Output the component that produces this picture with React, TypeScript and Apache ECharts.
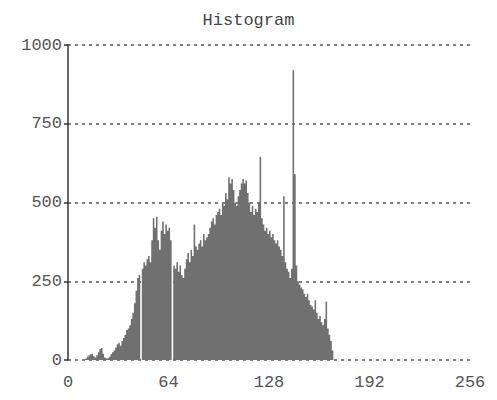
import React, { useEffect, useRef } from "react";
import * as echarts from "echarts";

const titleText = "Histogram";
const xTicks = [0, 64, 128, 192, 256];
const yTicks = [0, 250, 500, 750, 1000];

// counts for bins 0..169; remaining bins up to 255 are empty
const countsLow = [
  0, 0, 0, 0, 0, 0, 0, 0, 0, 0,
  2, 5, 10, 15, 18, 20, 12, 8, 15, 25,
  35, 38, 20, 8, 5, 6, 10, 18, 25, 30,
  40, 50, 55, 45, 60, 70, 80, 95, 100, 110,
  130, 150, 180, 220, 260, 270, 0, 290, 310, 300,
  320, 330, 310, 380, 450, 420, 455, 380, 350, 410,
  440, 400, 430, 410, 420, 380, 0, 300, 290, 310,
  280, 300, 270, 260, 290, 320, 340, 310, 350, 330,
  430, 360, 350, 370, 380, 360, 400, 380, 390, 400,
  420, 440, 450, 430, 460, 470, 480, 460, 500, 490,
  530, 510, 580, 560, 575, 540, 500, 490, 520, 540,
  560, 575, 560, 570, 530, 500, 470, 490, 460, 480,
  470, 500, 645, 450, 430, 410, 420, 400, 410, 390,
  400, 380, 370, 380, 360, 350, 330, 520, 310, 290,
  280, 260, 290, 920, 590, 300, 250, 240, 230, 225,
  210, 200, 210, 190, 175, 170, 160, 190, 150, 130,
  140, 120, 110, 130, 185, 100, 80, 60, 30, 0,
];
const binCount = 256;

export default function App() {
  const ref = useRef<HTMLDivElement>(null);
  useEffect(() => {
    if (!ref.current) return;
    const chart = echarts.init(ref.current, null, { renderer: "svg" });
    const bins = Array.from({ length: binCount }, (_, i) => String(i));
    const counts = bins.map((_, i) => (i < countsLow.length ? countsLow[i] : null));
    const font = "Liberation Mono";
    chart.setOption({
      animation: false,
      backgroundColor: "#ffffff",
      title: {
        text: titleText,
        left: "center",
        top: 7,
        textStyle: { fontFamily: font, fontSize: 17, fontWeight: "normal", color: "#444" },
      },
      grid: { left: 68, right: 27, top: 45, bottom: 40 },
      xAxis: [
        {
          type: "category",
          data: bins,
          boundaryGap: true,
          axisLine: { show: false },
          axisTick: { show: false },
          axisLabel: { show: false },
          splitLine: { show: false },
        },
        {
          type: "value",
          min: 0,
          max: 256,
          interval: 64,
          position: "bottom",
          axisLine: { show: false },
          axisTick: { show: false },
          splitLine: { show: false },
          axisLabel: {
            fontFamily: font,
            fontSize: 17,
            color: "#555",
            margin: 14,
            customValues: xTicks,
          },
        },
      ],
      yAxis: {
        type: "value",
        min: 0,
        max: 1000,
        interval: 250,
        axisLine: { show: true, lineStyle: { color: "#333", width: 1.5 } },
        axisTick: { show: true, length: 4, lineStyle: { color: "#333", width: 1.5 } },
        axisLabel: {
          fontFamily: font,
          fontSize: 17,
          color: "#555",
          margin: 6,
          customValues: yTicks,
          formatter: (v: number) => String(v),
        },
        splitLine: {
          show: true,
          lineStyle: { color: "#555", type: [3, 4], width: 1.5 },
        },
      },
      series: [
        {
          type: "line",
          xAxisIndex: 0,
          data: counts,
          step: "middle",
          symbol: "none",
          connectNulls: false,
          lineStyle: { width: 0, opacity: 0 },
          areaStyle: { color: "#707070", opacity: 1 },
          z: 3,
        },
      ],
    });
    return () => chart.dispose();
  }, []);
  return (
    <div
      ref={ref}
      style={{ position: "fixed", left: 0, top: 0, width: 497, height: 400 }}
    />
  );
}
